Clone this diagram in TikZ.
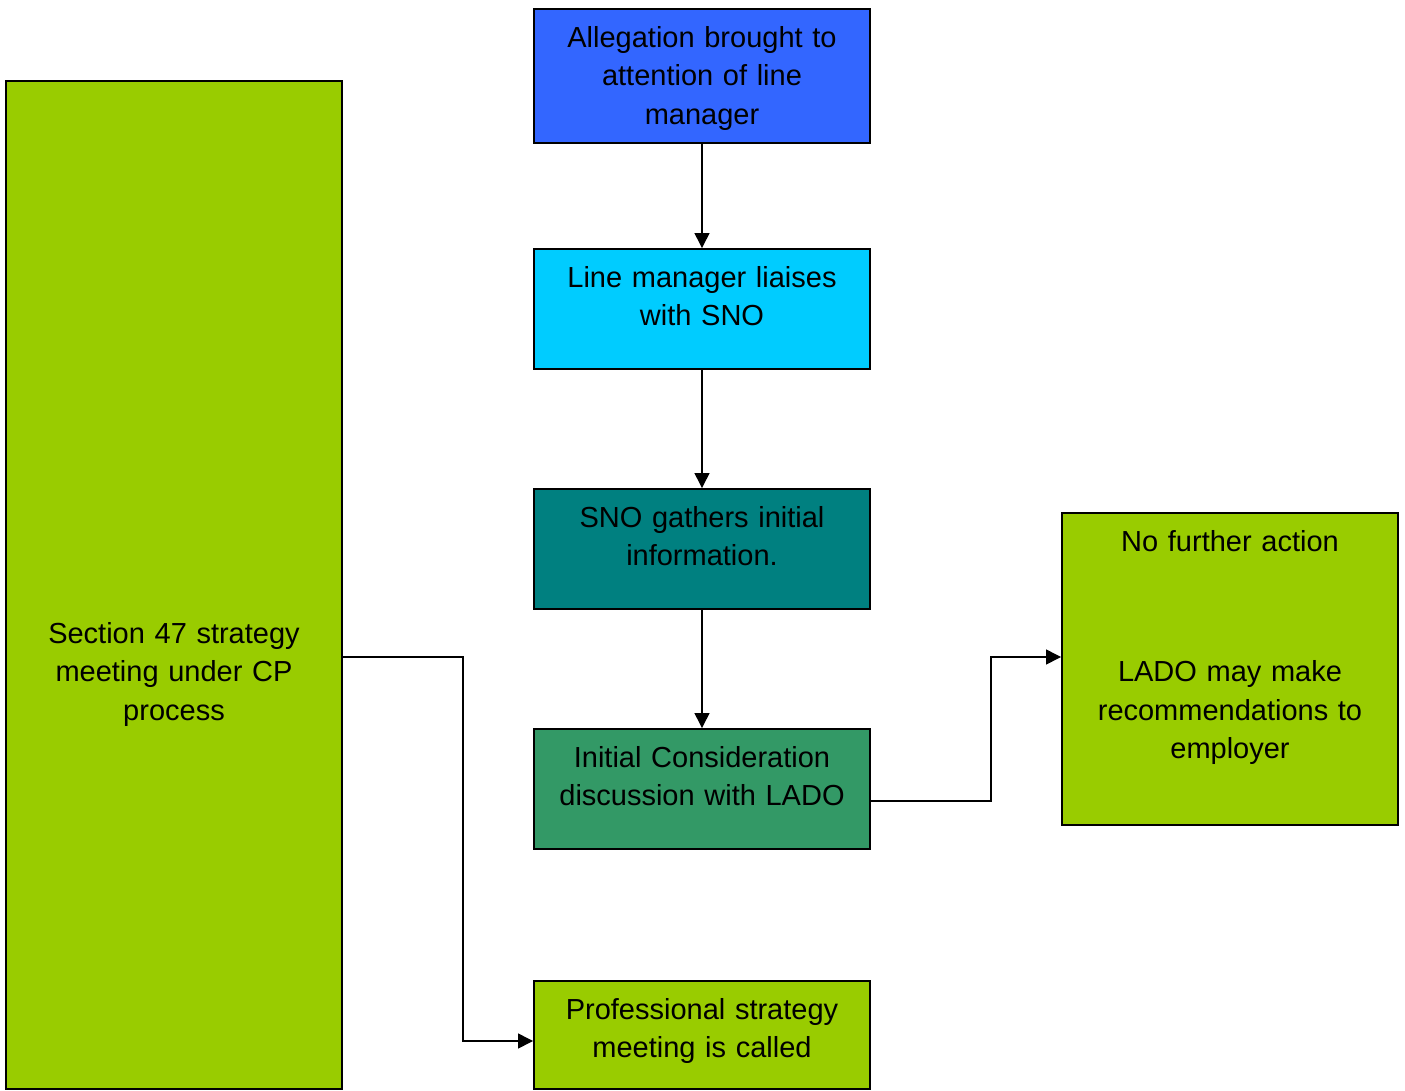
\documentclass[tikz,border=0pt]{standalone}
\usepackage{fontspec}
\setmainfont{Liberation Sans}
\usetikzlibrary{arrows.meta}

\definecolor{azul}{HTML}{3366FF}
\definecolor{celeste}{HTML}{00CCFF}
\definecolor{petroleo}{HTML}{008080}
\definecolor{verdemar}{HTML}{339966}
\definecolor{lima}{HTML}{99CC00}

\tikzset{
	box/.style={text width=6.72cm, align=center, inner xsep=0pt, inner ysep=0pt, text height=0.76cm, line width=1.1pt, draw=black},
	flow/.style={-{Triangle[length=0.3cm,width=0.3cm]}, line width=0.8pt}
}

\begin{document}
\begin{tikzpicture}[font=\fontsize{16.5}{22}\selectfont]
	
	\useasboundingbox (0,0) rectangle (28.1,-21.82);
	
	% Allegation
	\draw (14.04,-1.52) node[box, fill=azul, text depth=1.92cm] (allegation)
	{
		Allegation brought to \\ attention of line \\ manager
	};
	
	% Line manager
	\draw (14.04,-6.18) node[box, fill=celeste, text depth=1.64cm] (liaise)
	{
		Line manager liaises \\ with SNO
	};
	
	% SNO
	\draw (14.04,-10.98) node[box, fill=petroleo, text depth=1.64cm] (gather)
	{
		SNO gathers initial \\ information.
	};
	
	% Initial Consideration
	\draw (14.04,-15.78) node[box, fill=verdemar, text depth=1.64cm] (initial)
	{
		Initial Consideration \\ discussion with LADO
	};
	
	% Professional strategy meeting
	\draw (14.04,-20.70) node[box, fill=lima, text depth=1.40cm] (strategy)
	{
		Professional strategy \\ meeting is called
	};
	
	% Section 47
	\draw (3.48,-11.70) node[box, fill=lima, text height=11.24cm, text depth=8.92cm] (section)
	{
		Section 47 strategy \\ meeting under CP \\ process
	};
	
	% No further action
	\draw (24.60,-13.38) node[box, fill=lima, text depth=5.48cm] (nofurther)
	{
		No further action \\[1.84cm]
		LADO may make \\ recommendations to \\ employer
	};
	
	
	% Flechas
	
	\draw [flow] (allegation) -- (liaise);
	\draw [flow] (liaise) -- (gather);
	\draw [flow] (gather) -- (initial);
	
	\draw [flow] ([yshift=-0.24cm]initial.east) -- ++(2.4,0) |- ([yshift=0.24cm]nofurther.west);
	\draw [flow] ([yshift=-1.44cm]section.east) -- ++(2.4,0) |- ([yshift=-0.12cm]strategy.west);
	
\end{tikzpicture}
\end{document}
